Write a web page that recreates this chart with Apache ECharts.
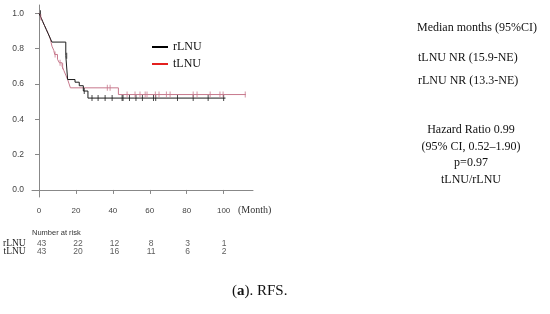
<!DOCTYPE html>
<html>
<head>
<meta charset="utf-8">
<script src="https://cdn.jsdelivr.net/npm/echarts@6/dist/echarts.min.js"></script>
<style>
  html, body { margin: 0; padding: 0; background: #fff; }
  #km-chart { width: 550px; height: 314px; }
</style>
</head>
<body>
<div id="km-chart"></div>
<script>
// 生存曲线（月, 生存率）
const rlnu_curve = [
  [0, 1.0], [1, 0.977], [2, 0.953], [3, 0.93], [4, 0.907], [5, 0.884], [6, 0.86], [7, 0.837],
  [14.5, 0.76], [15.5, 0.625], [19.5, 0.61], [21.8, 0.59], [24, 0.56], [26.5, 0.52], [101, 0.52],
];
const tlnu_curve = [
  [0, 1.0], [1, 0.977], [2, 0.953], [3, 0.93], [4, 0.907], [5, 0.884], [6, 0.86], [6.5, 0.837],
  [7, 0.814], [8, 0.79], [8.5, 0.767], [10, 0.74], [11, 0.72], [12.5, 0.7], [13.5, 0.675],
  [14.5, 0.65], [15.5, 0.625], [16.3, 0.6], [17, 0.578], [43, 0.54], [112, 0.54],
];
// 删失时间点
const rlnu_censor = [0.8, 15, 24.5, 28.7, 32, 35.8, 39.6, 45, 45.5, 49, 52.5, 56, 62, 63.2, 75, 83.5, 91.6, 100];
const tlnu_censor = [1, 8.7, 11.4, 12.8, 37, 38.5, 47.7, 52, 54.7, 57.5, 58.5, 63, 65, 69, 71, 83.5, 85.6, 92.7, 98, 99.7, 111.7];
// 坐标轴刻度
const x_ticks = [0, 20, 40, 60, 80, 100];
const y_ticks = [0, 0.2, 0.4, 0.6, 0.8, 1.0];
// 风险人数
const risk_groups = ["rLNU", "tLNU"];
const risk_rlnu = [43, 22, 12, 8, 3, 1];
const risk_tlnu = [43, 20, 16, 11, 6, 2];
// 右侧说明文字
const median_lines = ["Median months (95%CI)", "tLNU NR (15.9-NE)", "rLNU NR (13.3-NE)"];
const hr_lines = ["Hazard Ratio 0.99", "(95% CI, 0.52\u20131.90)", "p=0.97", "tLNU/rLNU"];

const serif = "'Liberation Serif', 'Times New Roman', serif";
const sans = "'Liberation Sans', Arial, sans-serif";

// 取某时间点的生存率（阶梯函数）
const survAt = (curve, t) => {
  let s = curve[0][1];
  curve.forEach((p) => {
    if (p[0] <= t) s = p[1];
  });
  return s;
};

const chartDom = document.getElementById("km-chart");
const Mychart = echarts.init(chartDom);

const option = {
  animation: false,
  grid: [
    { left: 32, right: 297, top: 5, bottom: 117 },
    { left: 32, right: 297, top: 240, height: 15 },
  ],
  legend: {
    orient: "vertical",
    left: 147,
    top: 36,
    icon: "rect",
    itemWidth: 16,
    itemHeight: 2,
    itemGap: 5,
    data: [
      { name: "rLNU", itemStyle: { color: "#000" } },
      { name: "tLNU", itemStyle: { color: "#e3201e" } },
    ],
    textStyle: { fontFamily: serif, fontSize: 12, color: "#111" },
  },
  xAxis: [
    {
      type: "value",
      gridIndex: 0,
      min: -3.8,
      max: 115.9,
      splitLine: { show: false },
      axisLine: { lineStyle: { color: "#888", width: 1 } },
      axisTick: { customValues: x_ticks, length: 4, lineStyle: { color: "#888" } },
      axisLabel: { customValues: x_ticks, color: "#444", fontFamily: sans, fontSize: 8, margin: 10 },
    },
    { type: "value", gridIndex: 1, min: -3.8, max: 115.9, show: false },
  ],
  yAxis: [
    {
      type: "value",
      gridIndex: 0,
      min: -0.04,
      max: 1.047,
      splitLine: { show: false },
      axisLine: { show: true, lineStyle: { color: "#888", width: 1 } },
      axisTick: { show: true, customValues: y_ticks, length: 4, lineStyle: { color: "#888" } },
      axisLabel: {
        customValues: y_ticks,
        color: "#444",
        fontFamily: sans,
        fontSize: 8.5,
        margin: 8,
        formatter: (v) => v.toFixed(1),
      },
    },
    {
      type: "category",
      gridIndex: 1,
      data: risk_groups,
      inverse: true,
      axisLine: { show: false },
      axisTick: { show: false },
      axisLabel: { interval: 0, fontFamily: serif, fontSize: 9.5, color: "#222", margin: 9 },
    },
  ],
  graphic: [
    { type: "text", left: 32, top: 229, style: { text: "Number at risk", font: "7.5px " + sans, fill: "#333" } },
    { type: "text", left: 238, top: 205, style: { text: "(Month)", font: "10px " + serif, fill: "#333" } },
    {
      type: "text",
      left: 232,
      top: 284,
      style: {
        text: "({b|a}). RFS.",
        font: "15px " + serif,
        fill: "#111",
        rich: { b: { fontWeight: "bold", fontSize: 15, fontFamily: serif } },
      },
    },
  ],
  series: [],
};

// 右侧文字：中位数
const median_y = [28, 58, 81];
median_lines.forEach((t, i) => {
  option.graphic.push({
    type: "text",
    x: i === 0 ? 417 : 418,
    y: median_y[i],
    style: { text: t, font: "12px " + serif, fill: "#111", verticalAlign: "middle" },
  });
});
// 右侧文字：风险比（居中）
hr_lines.forEach((t, i) => {
  option.graphic.push({
    type: "text",
    x: 471,
    y: 130 + i * 16.5,
    style: { text: t, font: "12px " + serif, fill: "#111", align: "center", verticalAlign: "middle" },
  });
});

// 生存曲线
const curves = [
  { name: "rLNU", data: rlnu_curve, censor: rlnu_censor, color: "#1c1c1c" },
  { name: "tLNU", data: tlnu_curve, censor: tlnu_censor, color: "#c7788c" },
];
curves.forEach((item) => {
  option.series.push({
    name: item.name,
    type: "line",
    step: "end",
    data: item.data,
    symbol: "none",
    lineStyle: { color: item.color, width: 1 },
    itemStyle: { color: item.color },
    z: item.name === "rLNU" ? 3 : 2,
  });
  // 删失标记
  option.series.push({
    name: item.name + "-censor",
    type: "scatter",
    data: item.censor.map((t) => [t, survAt(item.data, t)]),
    symbol: "rect",
    symbolSize: [1, 6],
    itemStyle: { color: item.color },
    z: 4,
  });
});

// 风险人数表
[risk_rlnu, risk_tlnu].forEach((row, i) => {
  option.series.push({
    name: "risk-" + risk_groups[i],
    type: "scatter",
    xAxisIndex: 1,
    yAxisIndex: 1,
    symbolSize: 1,
    itemStyle: { color: "rgba(0,0,0,0)" },
    data: row.map((n, j) => [x_ticks[j], risk_groups[i], n]),
    label: {
      show: true,
      position: "inside",
      formatter: (p) => p.value[2],
      fontFamily: sans,
      fontSize: 8.5,
      color: "#333",
    },
  });
});

Mychart.setOption(option);
</script>
</body>
</html>
